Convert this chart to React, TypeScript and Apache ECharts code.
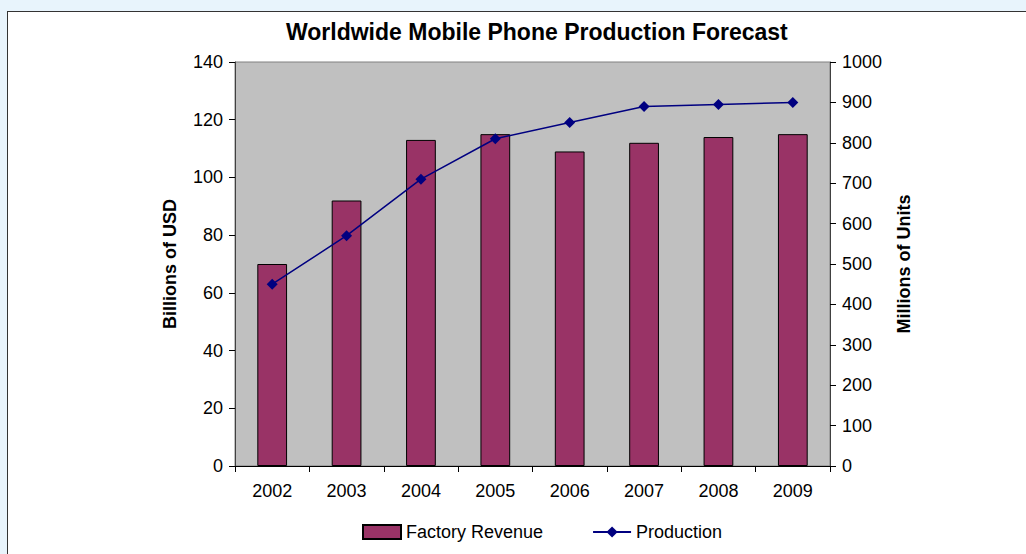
import React, { useEffect, useRef } from "react";
import * as echarts from "echarts";

const years = ["2002", "2003", "2004", "2005", "2006", "2007", "2008", "2009"];
const revenue = [70, 92, 113, 115, 109, 112, 114, 115];
const production = [450, 570, 710, 810, 850, 890, 895, 900];

export default function App() {
  const ref = useRef<HTMLDivElement>(null);
  useEffect(() => {
    document.body.style.margin = "0";
    const chart = echarts.init(ref.current!, null, { renderer: "svg" });
    const font = "Arial, 'Liberation Sans', sans-serif";
    chart.setOption({
      animation: false,
      textStyle: { fontFamily: font },
      title: {
        text: "Worldwide Mobile Phone Production Forecast",
        left: 281,
        top: 15,
        textStyle: { fontSize: 23, fontWeight: "bold", color: "#000", fontFamily: font },
      },
      legend: {
        left: 357,
        top: 518,
        itemWidth: 38,
        itemHeight: 14,
        itemGap: 49,
        textStyle: { fontSize: 18, color: "#000", fontFamily: font },
        data: [
          { name: "Factory Revenue", icon: "rect" },
          { name: "Production" },
        ],
      },
      grid: {
        left: 235,
        right: 196,
        top: 62,
        bottom: 88,
        show: true,
        backgroundColor: "#c0c0c0",
        borderColor: "#808080",
        borderWidth: 1,
      },
      xAxis: {
        type: "category",
        data: years,
        boundaryGap: true,
        axisLine: { lineStyle: { color: "#000", width: 1 } },
        axisTick: { show: true, length: 6, lineStyle: { color: "#000" } },
        axisLabel: { fontSize: 18, color: "#000", margin: 16, fontFamily: font },
      },
      yAxis: [
        {
          type: "value",
          min: 0,
          max: 140,
          interval: 20,
          name: "Billions of USD",
          nameLocation: "middle",
          nameGap: 56,
          nameTextStyle: { fontSize: 18, fontWeight: "bold", color: "#000", fontFamily: font },
          axisLine: { show: true, lineStyle: { color: "#404040" } },
          axisTick: { show: true, length: 6, lineStyle: { color: "#000" } },
          axisLabel: { fontSize: 18, color: "#000", margin: 12, fontFamily: font },
          splitLine: { show: false },
        },
        {
          type: "value",
          min: 0,
          max: 1000,
          interval: 100,
          name: "Millions of Units",
          nameLocation: "middle",
          nameGap: 65,
          nameTextStyle: { fontSize: 18, fontWeight: "bold", color: "#000", fontFamily: font },
          axisLine: { show: true, lineStyle: { color: "#404040" } },
          axisTick: { show: true, length: 6, lineStyle: { color: "#000" } },
          axisLabel: {
            fontSize: 18,
            color: "#000",
            margin: 12,
            fontFamily: font,
            formatter: (v: number) => String(v),
          },
          splitLine: { show: false },
        },
      ],
      series: [
        {
          name: "Factory Revenue",
          type: "bar",
          data: revenue,
          yAxisIndex: 0,
          barWidth: "40%",
          itemStyle: { color: "#993366", borderColor: "#000", borderWidth: 1 },
        },
        {
          name: "Production",
          type: "line",
          data: production,
          yAxisIndex: 1,
          symbol: "diamond",
          symbolSize: 11,
          lineStyle: { color: "#000080", width: 1.5 },
          itemStyle: { color: "#000080" },
        },
      ],
    });
    return () => chart.dispose();
  }, []);
  return (
    <div style={{ position: "relative", width: 1026, height: 554, background: "#e8f4fc", overflow: "hidden" }}>
      <div
        style={{
          position: "absolute",
          left: 7,
          top: 11,
          width: 1030,
          height: 560,
          background: "#fff",
          border: "1px solid #333",
        }}
      />
      <div ref={ref} style={{ position: "absolute", left: 0, top: 0, width: 1026, height: 554 }} />
    </div>
  );
}
